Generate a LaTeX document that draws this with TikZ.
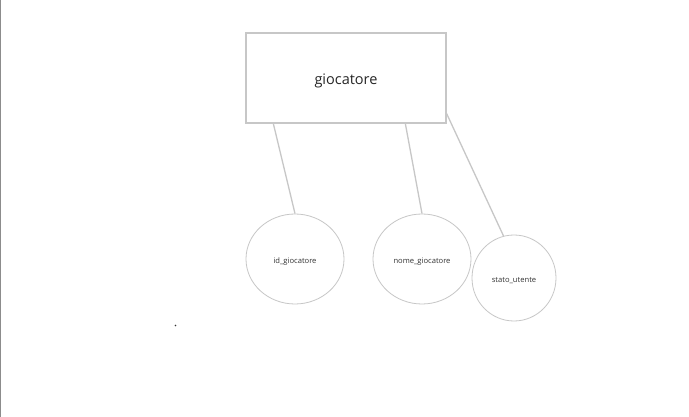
\documentclass[tikz,border=0pt]{standalone}
\usepackage{fontspec}
\setmainfont{Open Sans}
\usetikzlibrary{shapes.geometric,calc}
\begin{document}
\begin{tikzpicture}[x=1pt,y=1pt,
  ent/.style={draw=black!22,line width=1.3pt,minimum width=200pt,minimum height=90pt,inner sep=0pt,font=\fontsize{14.5}{16}\selectfont,text=black!85,text height=14pt,text depth=0pt},
  attr/.style={ellipse,draw=black!22,line width=0.8pt,inner sep=0pt,font=\fontsize{7.6}{9}\selectfont,text=black!80,text height=8pt,text depth=0pt},
  link/.style={draw=black!22,line width=1.3pt}]
\useasboundingbox (0,0) rectangle (689,-417);
\fill[white] (0,0) rectangle (689,-417);
\draw[black!45,line width=1.2pt] (0.6,0) -- (0.6,-417);
\node[ent] (g) at (346,-78) {giocatore};
\node[attr,minimum width=98pt,minimum height=90pt] (id) at (295,-259) {id\_giocatore};
\node[attr,minimum width=98pt,minimum height=90pt] (nm) at (422,-259) {nome\_giocatore};
\node[attr,minimum width=84pt,minimum height=86pt,text height=9.5pt] (st) at (514,-278) {stato\_utente};
\coordinate (dot) at (175.5,-325.5);
\fill[black!80] (dot) circle (0.9pt);
\path[link] ($(g.south west)+(28,0)$) -- (id.north);
\path[link] ($(g.south west)+(160,0)$) -- (nm.north);
\path[link] ($(g.south east)+(0,10)$) -- (st.104);
\end{tikzpicture}
\end{document}
